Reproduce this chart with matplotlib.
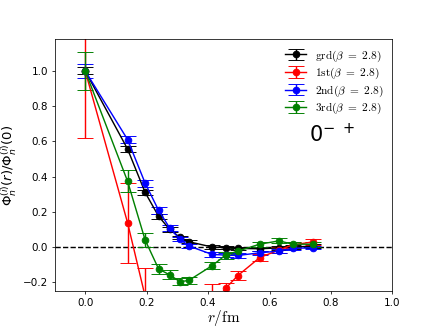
import numpy as np
import matplotlib.pyplot as plt

r = [0.0, 0.138, 0.195, 0.239, 0.275, 0.308, 0.337, 0.413, 0.457, 0.497, 0.568, 0.631, 0.675, 0.742]

grd = [1.0, 0.556, 0.31, 0.174, 0.10, 0.055, 0.03, 0.0, -0.004, -0.008, -0.01, -0.005, 0.0, 0.005]
grd_err = [0.02, 0.015, 0.015, 0.015, 0.012, 0.01, 0.01, 0.01, 0.01, 0.01, 0.01, 0.01, 0.01, 0.01]

first = [1.0, 0.137, -0.28, -0.45, -0.5, -0.5, -0.45, -0.33, -0.235, -0.162, -0.06, -0.017, 0.012, 0.029]
first_err = [0.38, 0.225, 0.16, 0.1, 0.1, 0.1, 0.1, 0.12, 0.03, 0.025, 0.02, 0.015, 0.015, 0.015]

second = [1.0, 0.61, 0.363, 0.208, 0.108, 0.045, 0.006, -0.042, -0.046, -0.048, -0.033, -0.023, -0.008, -0.004]
second_err = [0.04, 0.02, 0.02, 0.02, 0.015, 0.012, 0.012, 0.012, 0.012, 0.012, 0.012, 0.012, 0.01, 0.01]

third = [1.0, 0.373, 0.04, -0.125, -0.158, -0.197, -0.19, -0.106, -0.046, -0.023, 0.016, 0.035, 0.016, 0.016]
third_err = [0.11, 0.062, 0.04, 0.03, 0.025, 0.02, 0.02, 0.02, 0.02, 0.015, 0.015, 0.015, 0.015, 0.015]

series = [(grd, grd_err, 'black', r'$\mathrm{grd}(\beta\ =\ 2.8)$'),
          (first, first_err, 'red', r'$\mathrm{1st}(\beta\ =\ 2.8)$'),
          (second, second_err, 'blue', r'$\mathrm{2nd}(\beta\ =\ 2.8)$'),
          (third, third_err, 'green', r'$\mathrm{3rd}(\beta\ =\ 2.8)$')]

fig = plt.figure(figsize=(6.4, 4.8), dpi=68.125)
ax = fig.add_subplot(111)
ax.axhline(0, color='black', linestyle='--', lw=1.5)
for y, e, c, lab in series:
    ax.errorbar(r, y, yerr=e, color=c, marker='o', ms=7, lw=1.5, capsize=8, label=lab)

leg = ax.legend(loc='upper right', frameon=False, fontsize=12, handlelength=1.8,
                labelspacing=0.2, borderaxespad=0.4)
for t in leg.get_texts():
    t.set_math_fontfamily('cm')
ax.text(0.82, 0.62, r'$0^{-\ +}$', transform=ax.transAxes, fontsize=22, ha='center', va='center')

ax.set_xlim(-0.1, 1.0)
ax.set_ylim(-0.25, 1.18)
ax.tick_params(labelsize=11)
ax.set_xlabel(r'$r/\mathrm{fm}$', fontsize=16, math_fontfamily='cm', labelpad=0)
ax.set_ylabel(r'$\Phi_n^{(i)}(r)/\Phi_n^{(i)}(0)$', fontsize=14)
plt.savefig('out.png', dpi=68.125)
